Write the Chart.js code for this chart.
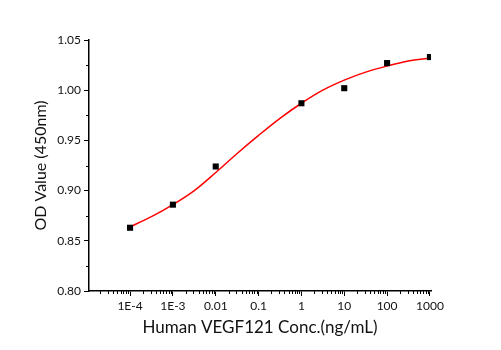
<!DOCTYPE html>
<html>
<head>
    <meta charset="utf-8" />
    <title>VEGF121 ELISA</title>
    <script src="https://cdn.jsdelivr.net/npm/chart.js"></script>
    <style>
        html, body { margin: 0; padding: 0; background: #fff; }
    </style>
</head>
<body>
    <div style="width: 501px; height: 350px;">
        <canvas id="myChart"></canvas>
    </div>

    <script>
        // measured points
        const concValues = [0.0001, 0.001, 0.01, 1, 10, 100, 1000];
        const odValues = [0.863, 0.886, 0.924, 0.987, 1.002, 1.027, 1.033];

        // fitted curve, every half decade
        const curveConc = [1e-4, 3.16e-4, 1e-3, 3.16e-3, 1e-2, 3.16e-2, 0.1, 0.316, 1, 3.16, 10, 31.6, 100, 316, 1000];
        const curveOd = [0.864, 0.874, 0.886, 0.900, 0.918, 0.937, 0.955, 0.972, 0.987, 1.000, 1.010, 1.018, 1.024, 1.029, 1.032];

        // axis ticks
        const xTickValues = [1e-4, 1e-3, 0.01, 0.1, 1, 10, 100, 1000];
        const xTickLabels = ['1E-4', '1E-3', '0.01', '0.1', '1', '10', '100', '1000'];
        const yMinorTicks = [0.825, 0.875, 0.925, 0.975, 1.025];

        // small outward minor ticks on both axes
        const minorTicks = {
            id: 'minorTicks',
            afterDraw(chart) {
                const ctx = chart.ctx;
                const x = chart.scales.x, y = chart.scales.y;
                const area = chart.chartArea;
                ctx.save();
                ctx.strokeStyle = '#000';
                ctx.lineWidth = 1;
                ctx.beginPath();
                for (let d = -5; d <= 3; d++) {
                    for (let m = 2; m <= 9; m++) {
                        const v = m * Math.pow(10, d);
                        if (v < x.min || v > x.max) continue;
                        const px = Math.round(x.getPixelForValue(v)) + 0.5;
                        ctx.moveTo(px, area.bottom);
                        ctx.lineTo(px, area.bottom + 3);
                    }
                }
                yMinorTicks.forEach(v => {
                    const py = Math.round(y.getPixelForValue(v)) + 0.5;
                    ctx.moveTo(area.left, py);
                    ctx.lineTo(area.left - 3, py);
                });
                ctx.stroke();
                ctx.restore();
            }
        };

        Chart.defaults.font.family = 'Lato, "Open Sans", sans-serif';
        Chart.defaults.color = '#111';

        const ctx = document.getElementById('myChart').getContext('2d');
        new Chart(ctx, {
            type: 'scatter',
            data: {
                datasets: [{
                    label: 'Fit',
                    data: curveConc.map((c, i) => ({ x: c, y: curveOd[i] })),
                    showLine: true,
                    borderColor: '#ff0000',
                    borderWidth: 1.5,
                    pointRadius: 0,
                    cubicInterpolationMode: 'monotone',
                    order: 2
                }, {
                    label: 'OD',
                    data: concValues.map((c, i) => ({ x: c, y: odValues[i] })),
                    pointStyle: 'rect',
                    pointRadius: 4.3,
                    backgroundColor: '#000',
                    borderColor: '#000',
                    borderWidth: 0,
                    order: 1
                }]
            },
            options: {
                responsive: true,
                maintainAspectRatio: false,
                animation: false,
                layout: { padding: { top: 40, right: 70, left: 0, bottom: 0 } },
                plugins: {
                    legend: { display: false },
                    tooltip: { enabled: false }
                },
                scales: {
                    x: {
                        type: 'logarithmic',
                        min: 1.1e-5,
                        max: 1060,
                        afterBuildTicks: s => { s.ticks = xTickValues.map(v => ({ value: v })); },
                        afterFit: s => { s.height = 59; },
                        ticks: {
                            autoSkip: false,
                            maxRotation: 0,
                            padding: 3,
                            font: { size: 12 },
                            color: '#111',
                            callback: (v, i) => xTickLabels[i]
                        },
                        grid: {
                            display: true,
                            drawOnChartArea: false,
                            drawTicks: true,
                            tickLength: 5,
                            color: '#000'
                        },
                        border: { display: true, color: '#000', width: 1.5 },
                        title: {
                            display: true,
                            text: 'Human VEGF121 Conc.(ng/mL)',
                            font: { size: 17 },
                            color: '#111',
                            padding: { top: 12, bottom: 12 }
                        }
                    },
                    y: {
                        min: 0.8,
                        max: 1.05,
                        afterFit: s => { s.width = 89; },
                        ticks: {
                            stepSize: 0.05,
                            padding: 3,
                            font: { size: 12 },
                            color: '#111',
                            callback: v => v.toFixed(2)
                        },
                        grid: {
                            display: true,
                            drawOnChartArea: false,
                            drawTicks: true,
                            tickLength: 5,
                            color: '#000'
                        },
                        border: { display: true, color: '#000', width: 1.5 },
                        title: {
                            display: true,
                            text: 'OD Value (450nm)',
                            font: { size: 16 },
                            color: '#111',
                            padding: { top: 31, bottom: 31 }
                        }
                    }
                }
            },
            plugins: [minorTicks]
        });
    </script>
</body>
</html>
